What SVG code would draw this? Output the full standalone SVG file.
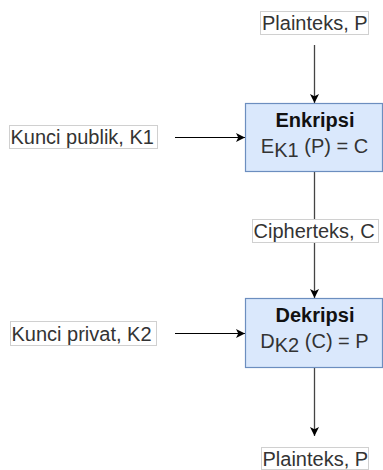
<svg xmlns="http://www.w3.org/2000/svg" width="383" height="470" viewBox="0 0 383 470">
  <defs>
    <marker id="arrow" viewBox="0 0 10 10" refX="10" refY="5" markerWidth="9" markerHeight="9" markerUnits="userSpaceOnUse" orient="auto">
      <path d="M0,0 L10,5 L0,10 L2.5,5 Z" fill="#000"/>
    </marker>
    <style>
      .lbl-box { fill: #fff; stroke: #d0d0d0; stroke-width: 1; }
      .lbl { font-family: "Liberation Sans", Arial, sans-serif; font-size: 20px; fill: #333; }
      .proc { fill: #dae8fc; stroke: #6c8ebf; stroke-width: 1.2; }
      .title { font-family: "Liberation Sans", Arial, sans-serif; font-size: 20px; font-weight: bold; fill: #111; text-anchor: middle; }
      .formula { font-family: "Liberation Sans", Arial, sans-serif; font-size: 20px; fill: #333; text-anchor: middle; }
      .edge { fill: none; stroke: #444; stroke-width: 1.3; }
      .edge-h { fill: none; stroke: #000; stroke-width: 1.2; }
    </style>
  </defs>

  <!-- connectors -->
  <g id="connectors">
    <line class="edge" x1="314.5" y1="45" x2="314.5" y2="103" marker-end="url(#arrow)"/>
    <line class="edge-h" x1="175" y1="137.5" x2="245" y2="137.5" marker-end="url(#arrow)"/>
    <line class="edge" x1="314.5" y1="172" x2="314.5" y2="219"/>
    <line class="edge" x1="314.5" y1="242" x2="314.5" y2="298" marker-end="url(#arrow)"/>
    <line class="edge-h" x1="175" y1="333.5" x2="245" y2="333.5" marker-end="url(#arrow)"/>
    <line class="edge" x1="314.5" y1="368" x2="314.5" y2="436" marker-end="url(#arrow)"/>
  </g>

  <!-- input plaintext -->
  <g id="plaintext-in">
    <rect class="lbl-box" x="260.5" y="11.5" width="108" height="23"/>
    <text class="lbl" x="262" y="29.5">Plainteks, P</text>
  </g>

  <!-- public key -->
  <g id="public-key">
    <rect class="lbl-box" x="9.5" y="125.5" width="148" height="23"/>
    <text class="lbl" x="10.5" y="144">Kunci publik, K1</text>
  </g>

  <!-- encryption -->
  <g id="encrypt">
    <rect class="proc" x="245.5" y="103.5" width="137" height="68"/>
    <text class="title" x="315" y="127">Enkripsi</text>
    <text class="formula" x="314.5" y="153">E<tspan dy="4">K1</tspan><tspan dy="-4"> (P) = C</tspan></text>
  </g>

  <!-- ciphertext -->
  <g id="ciphertext">
    <rect class="lbl-box" x="252.5" y="219.5" width="126" height="23"/>
    <text class="lbl" x="253.5" y="237.5">Cipherteks, C</text>
  </g>

  <!-- private key -->
  <g id="private-key">
    <rect class="lbl-box" x="10.5" y="321.5" width="146" height="24"/>
    <text class="lbl" x="11.5" y="340.5">Kunci privat, K2</text>
  </g>

  <!-- decryption -->
  <g id="decrypt">
    <rect class="proc" x="245.5" y="298.5" width="137" height="69"/>
    <text class="title" x="315" y="322">Dekripsi</text>
    <text class="formula" x="314.5" y="348">D<tspan dy="4">K2</tspan><tspan dy="-4"> (C) = P</tspan></text>
  </g>

  <!-- output plaintext -->
  <g id="plaintext-out">
    <rect class="lbl-box" x="261.5" y="447.5" width="107" height="22"/>
    <text class="lbl" x="262.5" y="465.5">Plainteks, P</text>
  </g>
</svg>
